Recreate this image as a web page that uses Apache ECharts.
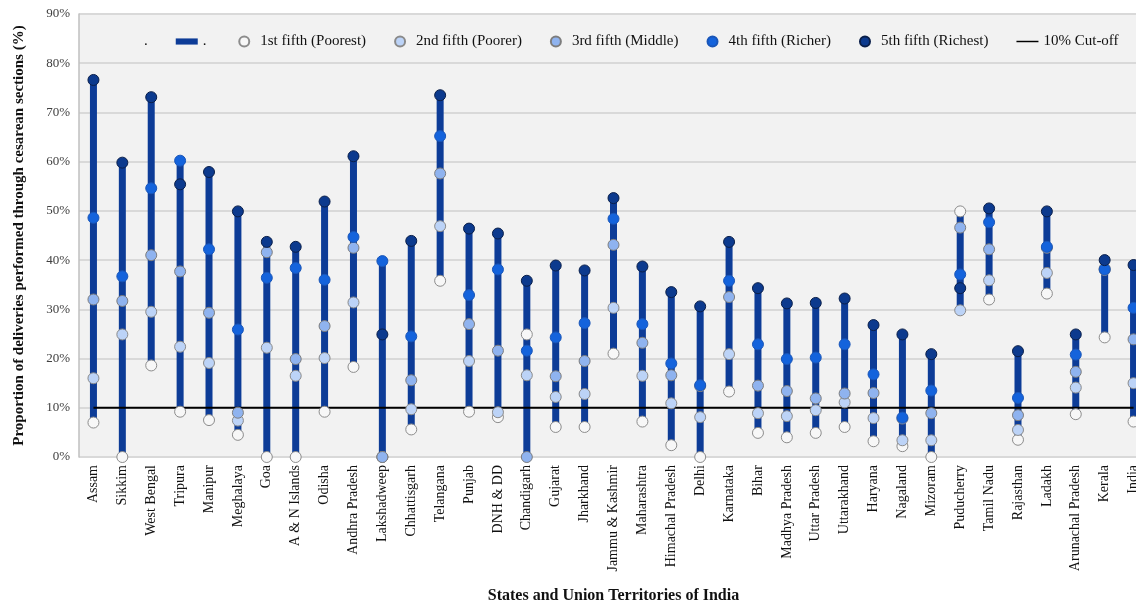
<!DOCTYPE html>
<html>
<head>
<meta charset="utf-8">
<script src="https://cdn.jsdelivr.net/npm/echarts@6/dist/echarts.min.js"></script>
<style>
  html, body { margin: 0; padding: 0; background: #ffffff; }
  #chart { width: 1136px; height: 603px; }
</style>
</head>
<body>
<div id="chart"></div>
<script>
// Caesarean-section rates by wealth quintile, states and union territories of India (%)
const categories = ['Assam','Sikkim','West Bengal','Tripura','Manipur','Meghalaya','Goa','A & N Islands','Odisha','Andhra Pradesh','Lakshadweep','Chhattisgarh','Telangana','Punjab','DNH & DD','Chandigarh','Gujarat','Jharkhand','Jammu & Kashmir','Maharashtra','Himachal Pradesh','Delhi','Karnataka','Bihar','Madhya Pradesh','Uttar Pradesh','Uttarakhand','Haryana','Nagaland','Mizoram','Puducherry','Tamil Nadu','Rajasthan','Ladakh','Arunachal Pradesh','Kerala','India'];

const poorest = [7.0,0,18.6,9.2,7.5,4.5,0,0,9.2,18.3,0,5.6,35.8,9.2,8.1,24.9,6.1,6.1,21.0,7.2,2.4,0,13.3,4.9,4.0,4.9,6.1,3.2,2.2,0,49.9,32.0,3.5,33.2,8.7,24.3,7.2];
const poorer  = [16.0,24.9,29.5,22.4,19.1,7.4,22.2,16.5,20.1,31.4,0,9.7,46.9,19.5,9.1,16.6,12.2,12.8,30.3,16.5,10.9,8.1,20.9,8.9,8.3,9.5,11.1,7.9,3.4,3.4,29.8,35.9,5.5,37.4,14.1,38.0,15.0];
const middle  = [32.0,31.7,41.0,37.7,29.3,9.0,41.6,19.9,26.6,42.5,0,15.6,57.6,27.0,21.6,0,16.4,19.5,43.1,23.2,16.6,14.4,32.5,14.5,13.4,11.9,12.9,13.0,7.8,8.9,46.6,42.2,8.5,42.5,17.3,38.3,23.9];
const richer  = [48.6,36.7,54.6,60.2,42.2,25.9,36.4,38.4,36.0,44.7,39.8,24.5,65.2,32.9,38.1,21.6,24.3,27.2,48.4,27.0,19.0,14.6,35.8,22.9,19.9,20.2,22.9,16.8,8.0,13.5,37.1,47.7,12.0,42.7,20.8,38.1,30.3];
const richest = [76.6,59.8,73.1,55.4,57.9,49.9,43.7,42.7,51.9,61.1,24.9,43.9,73.5,46.4,45.4,35.8,38.9,37.9,52.6,38.7,33.5,30.6,43.7,34.3,31.2,31.3,32.2,26.8,24.9,20.9,34.3,50.5,21.5,49.9,24.9,40.0,39.0];

const quintileNames = ['1st fifth (Poorest)','2nd fifth (Poorer)','3rd fifth (Middle)','4th fifth (Richer)','5th fifth (Richest)'];
const CUTOFF = 10;
const yTicks = { min: 0, max: 90, step: 10 };

// Range bars run from the lowest to the highest quintile in each region
const quintiles = [poorest, poorer, middle, richer, richest];
const lows = categories.map((_, i) => Math.min(...quintiles.map(q => q[i])));
const highs = categories.map((_, i) => Math.max(...quintiles.map(q => q[i])));
const spans = highs.map((h, i) => +(h - lows[i]).toFixed(2));

const SERIF = "'Liberation Serif', 'Times New Roman', serif";
const markerStyles = [
  { color: '#f7f7f7', borderColor: '#8c8c8c' },
  { color: '#bcd3f7', borderColor: '#8a8a8a' },
  { color: '#8fb3ef', borderColor: '#7d7d7d' },
  { color: '#1463dc', borderColor: '#1a56b8' },
  { color: '#0c3a8e', borderColor: '#0a1f4a' }
];

const chart = echarts.init(document.getElementById('chart'), null, { renderer: 'canvas' });

const scatterSeries = quintiles.map((q, k) => ({
  name: quintileNames[k],
  type: 'scatter',
  data: q,
  symbol: 'circle',
  symbolSize: 11,
  z: 4 + k,
  itemStyle: { color: markerStyles[k].color, borderColor: markerStyles[k].borderColor, borderWidth: 1, opacity: 1 },
  emphasis: { disabled: true }
}));

chart.setOption({
  animation: false,
  backgroundColor: '#ffffff',
  grid: {
    left: 79, right: -12, top: 14, bottom: 146,
    outerBoundsMode: 'none',
    containLabel: false,
    show: true, backgroundColor: '#f2f2f2', borderWidth: 0
  },
  legend: {
    left: 112, top: 29,
    itemWidth: 22, itemHeight: 10, itemGap: 28,
    textStyle: { fontFamily: SERIF, fontSize: 15, color: '#111' },
    data: [
      { name: '.', icon: 'rect' },
      { name: '. ', icon: 'path://M0,0 H25 V7 H0 Z' },
      { name: quintileNames[0], icon: 'circle' },
      { name: quintileNames[1], icon: 'circle' },
      { name: quintileNames[2], icon: 'circle' },
      { name: quintileNames[3], icon: 'circle' },
      { name: quintileNames[4], icon: 'circle' },
      { name: '10% Cut-off', icon: 'path://M0,0 H30 V2 H0 Z' }
    ]
  },
  xAxis: {
    type: 'category',
    data: categories,
    name: 'States and Union Territories of India',
    nameLocation: 'middle',
    nameGap: 131,
    nameTextStyle: { fontFamily: SERIF, fontSize: 16, fontWeight: 'bold', color: '#111' },
    axisLine: { show: false },
    axisTick: { show: false },
    axisLabel: { rotate: 90, interval: 0, margin: 8, fontFamily: SERIF, fontSize: 14, color: '#111' }
  },
  yAxis: {
    type: 'value',
    min: yTicks.min, max: yTicks.max, interval: yTicks.step,
    name: 'Proportion of deliveries performed through cesarean sections (%)',
    nameLocation: 'middle',
    nameGap: 52,
    nameTextStyle: { fontFamily: SERIF, fontSize: 15, fontWeight: 'bold', color: '#111' },
    axisLine: { show: true, lineStyle: { color: '#bfbfbf', width: 1.5 } },
    axisTick: { show: false },
    axisLabel: { formatter: '{value}%', margin: 9, fontFamily: SERIF, fontSize: 13, color: '#404040' },
    splitLine: { show: true, lineStyle: { color: '#d9d9d9', width: 2 } }
  },
  series: [
    {
      name: '.',
      type: 'bar',
      stack: 'range',
      data: lows,
      barWidth: 7,
      z: 1,
      itemStyle: { color: 'rgba(0,0,0,0)' },
      emphasis: { disabled: true }
    },
    {
      name: '. ',
      type: 'bar',
      stack: 'range',
      data: spans,
      barWidth: 7,
      z: 1,
      itemStyle: { color: '#0d3c97' },
      emphasis: { disabled: true }
    },
    {
      name: '10% Cut-off',
      type: 'line',
      data: [[categories[0], CUTOFF], [categories[categories.length - 1], CUTOFF]],
      symbol: 'none',
      z: 3,
      lineStyle: { color: '#000000', width: 2 },
      itemStyle: { color: '#000000' },
      emphasis: { disabled: true }
    },
    ...scatterSeries
  ]
});
</script>
</body>
</html>
